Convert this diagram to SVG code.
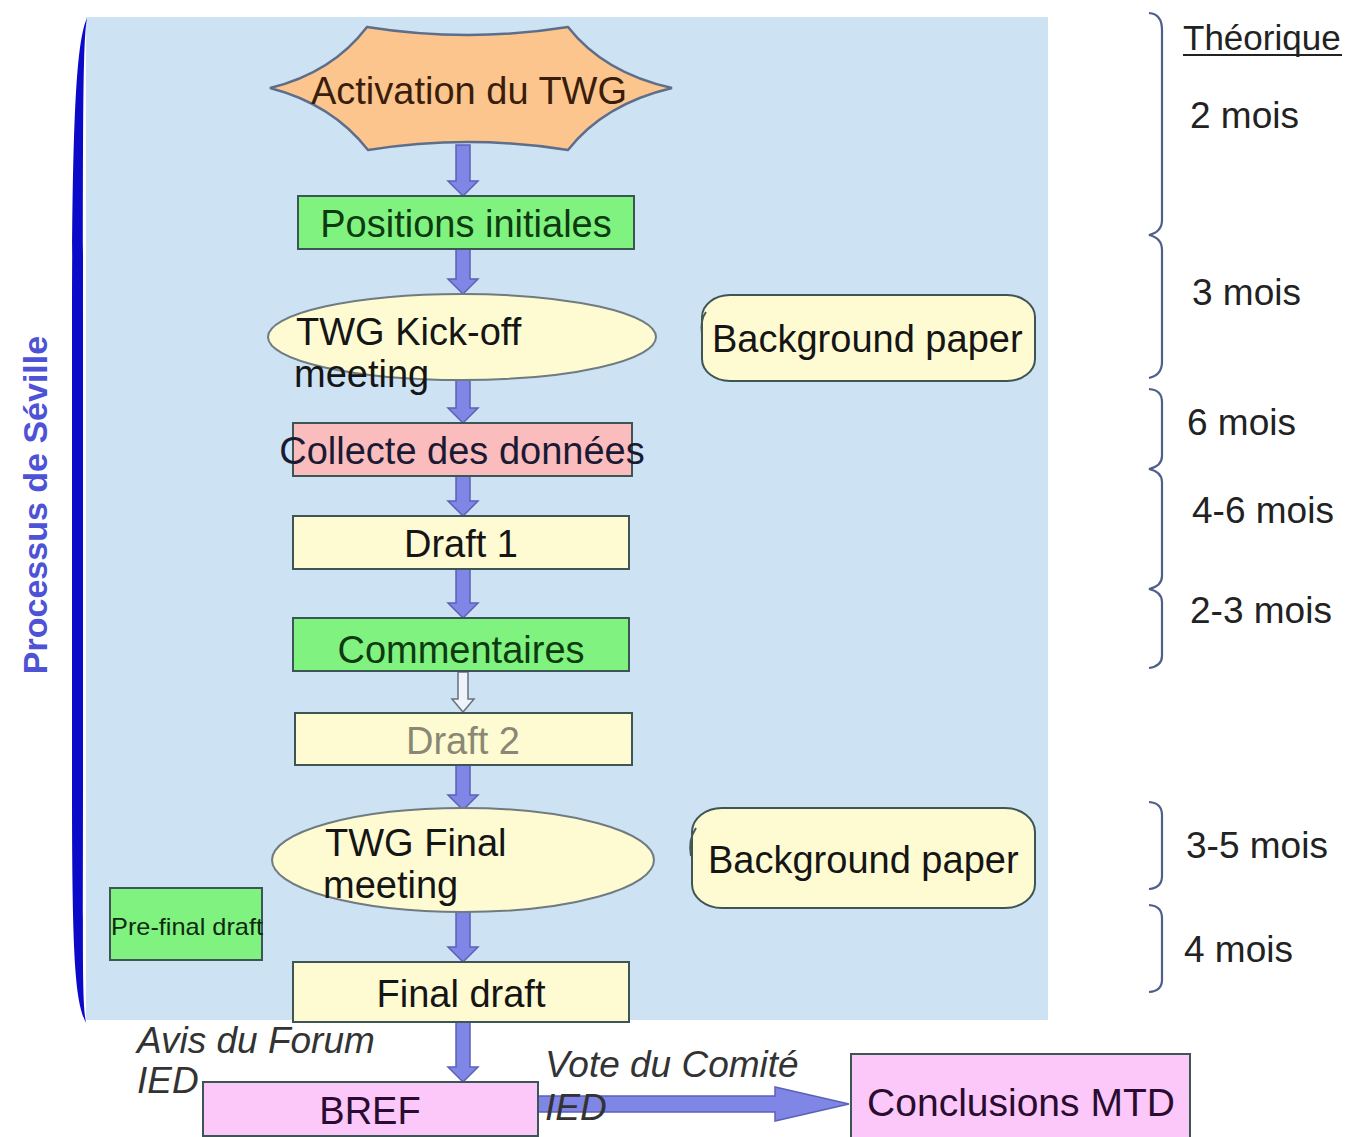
<svg xmlns="http://www.w3.org/2000/svg" width="1348" height="1137" viewBox="0 0 1348 1137">
<style>
  text { font-family: "Liberation Sans", Arial, sans-serif; }
  .t38 { font-size: 38px; }
  .box { stroke: #3d5555; stroke-width: 2; }
  .green { fill: #80f280; }
  .yellow { fill: #fefbd2; }
  .pink { fill: #fabcbc; }
  .mag { fill: #fcc8fa; }
  .ell { fill: #fefbd2; stroke: #6f7b80; stroke-width: 2; }
  .arrow { fill: #7f86e6; stroke: #5a62b8; stroke-width: 1.5; }
  .brace { fill: none; stroke: #4f5f8c; stroke-width: 2.2; }
  .ital { font-style: italic; font-size: 37px; fill: #333; }
  .mois { font-size: 37px; fill: #222; }
</style>
<rect x="0" y="0" width="1348" height="1137" fill="#ffffff"/>
<rect id="panel" x="86" y="17" width="962" height="1003" fill="#cde3f3"/>
<path id="left-bar" d="M87,18 C77,40 72,110 72,320 L72,780 C72,960 75,1000 86,1023 C82,1000 83,960 83,780 L83,320 C83,110 83,40 87,18 Z" fill="#0a0ac8"/>
<text id="side-label" transform="translate(47,505) rotate(-90)" text-anchor="middle" font-size="34" font-weight="bold" fill="#4d52d6">Processus de Séville</text>

<g id="connectors">
  <polygon class="arrow" points="456,145 470,145 470,181 478,181 463,196 448,181 456,181"/>
  <polygon class="arrow" points="456,249 470,249 470,279 478,279 463,294 448,279 456,279"/>
  <polygon class="arrow" points="456,378 470,378 470,408 478,408 463,423 448,408 456,408"/>
  <polygon class="arrow" points="456,476 470,476 470,501 478,501 463,516 448,501 456,501"/>
  <polygon class="arrow" points="456,569 470,569 470,603 478,603 463,618 448,603 456,603"/>
  <polygon points="458,672 468,672 468,699 474,699 463,712 452,699 458,699" fill="#eef4fa" stroke="#6a7080" stroke-width="1.5"/>
  <polygon class="arrow" points="456,765 470,765 470,795 478,795 463,810 448,795 456,795"/>
  <polygon class="arrow" points="456,910 470,910 470,947 478,947 463,962 448,947 456,947"/>
  <polygon class="arrow" points="456,1022 470,1022 470,1067 478,1067 463,1082 448,1067 456,1067"/>
  <polygon class="arrow" points="538,1096 775,1096 775,1087 849,1104 775,1121 775,1112 538,1112"/>
</g>

<g id="activation">
  <path d="M270,88 Q332,73 367,27 Q468,43 568,27 Q604,73 672,88 Q604,104 568,150 Q468,134 368,150 Q332,104 270,88 Z" fill="#fcc58d" stroke="#5d6d8a" stroke-width="2.5"/>
  <text class="t38" x="469" y="104" text-anchor="middle" fill="#3a1d0a">Activation du TWG</text>
</g>

<g id="positions">
  <rect class="box green" x="298" y="196" width="336" height="53"/>
  <text class="t38" x="466" y="237" text-anchor="middle" fill="#0e3a10">Positions initiales</text>
</g>

<g id="kickoff">
  <ellipse class="ell" cx="462" cy="337" rx="194" ry="43"/>
  <text class="t38" x="296" y="345" fill="#151515">TWG Kick-off</text>
  <text class="t38" x="294" y="387" fill="#151515">meeting</text>
</g>

<g id="background1">
  <rect class="box yellow" x="702" y="295" width="333" height="86" rx="28" ry="22" stroke="#4a5555"/>
  <path d="M706,312 Q700,320 702,334" fill="none" stroke="#4a5555" stroke-width="2"/>
  <text class="t38" x="712" y="352" fill="#151515">Background paper</text>
</g>

<g id="collecte">
  <rect class="box pink" x="293" y="423" width="339" height="53"/>
  <text class="t38" x="462" y="464" text-anchor="middle" fill="#1a1a35">Collecte des données</text>
</g>

<g id="draft1">
  <rect class="box yellow" x="293" y="516" width="336" height="53"/>
  <text class="t38" x="461" y="557" text-anchor="middle" fill="#151515">Draft 1</text>
</g>

<g id="commentaires">
  <rect class="box green" x="293" y="618" width="336" height="53"/>
  <text class="t38" x="461" y="663" text-anchor="middle" fill="#0e3a10">Commentaires</text>
</g>

<g id="draft2">
  <rect class="box yellow" x="295" y="713" width="337" height="52"/>
  <text class="t38" x="463" y="754" text-anchor="middle" fill="#8a8874">Draft 2</text>
</g>

<g id="finalmeeting">
  <ellipse class="ell" cx="463" cy="860" rx="191" ry="52"/>
  <text class="t38" x="325" y="856" fill="#151515">TWG Final</text>
  <text class="t38" x="323" y="898" fill="#151515">meeting</text>
</g>

<g id="background2">
  <rect class="box yellow" x="692" y="808" width="343" height="100" rx="30" ry="24" stroke="#4a5555"/>
  <path d="M696,828 Q688,840 691,856" fill="none" stroke="#4a5555" stroke-width="2"/>
  <text class="t38" x="708" y="873" fill="#151515">Background paper</text>
</g>

<g id="prefinal">
  <rect class="box green" x="110" y="888" width="152" height="72"/>
  <text x="111" y="935" font-size="24" fill="#0e2a10" textLength="152" lengthAdjust="spacingAndGlyphs">Pre-final draft</text>
</g>

<g id="finaldraft">
  <rect class="box yellow" x="293" y="962" width="336" height="60"/>
  <text class="t38" x="461" y="1007" text-anchor="middle" fill="#151515">Final draft</text>
</g>

<g id="bref">
  <rect class="box mag" x="203" y="1082" width="335" height="54"/>
  <text class="t38" x="370" y="1124" text-anchor="middle" fill="#2a0c30" font-size="39">BREF</text>
</g>

<g id="conclusions">
  <rect class="box mag" x="851" y="1054" width="339" height="84"/>
  <text x="1021" y="1116" text-anchor="middle" font-size="39" fill="#2a0c30">Conclusions MTD</text>
</g>

<g id="labels">
  <text class="ital" x="137" y="1053">Avis du Forum</text>
  <text class="ital" x="137" y="1093">IED</text>
  <text class="ital" x="545" y="1077">Vote du Comité</text>
  <text class="ital" x="545" y="1120" fill="#141450">IED</text>
</g>

<g id="timeline">
  <path class="brace" d="M1149,13 Q1162,14 1162,30 L1162,220 Q1162,232 1149,235 Q1162,238 1162,250 L1162,362 Q1162,375 1149,378"/>
  <path class="brace" d="M1149,389 Q1162,390 1162,402 L1162,456 Q1162,466 1149,469 Q1162,472 1162,482 L1162,576 Q1162,586 1149,589 Q1162,592 1162,602 L1162,656 Q1162,666 1149,668"/>
  <path class="brace" d="M1149,802 Q1162,803 1162,815 L1162,876 Q1162,888 1149,889"/>
  <path class="brace" d="M1149,905 Q1162,906 1162,918 L1162,980 Q1162,991 1149,992"/>
  <text x="1183" y="50" font-size="35" fill="#222">Théorique</text>
  <line x1="1183" y1="55" x2="1342" y2="55" stroke="#222" stroke-width="2"/>
  <text class="mois" x="1190" y="128">2 mois</text>
  <text class="mois" x="1192" y="305">3 mois</text>
  <text class="mois" x="1187" y="435">6 mois</text>
  <text class="mois" x="1192" y="523">4-6 mois</text>
  <text class="mois" x="1190" y="623">2-3 mois</text>
  <text class="mois" x="1186" y="858">3-5 mois</text>
  <text class="mois" x="1184" y="962">4 mois</text>
</g>
</svg>
